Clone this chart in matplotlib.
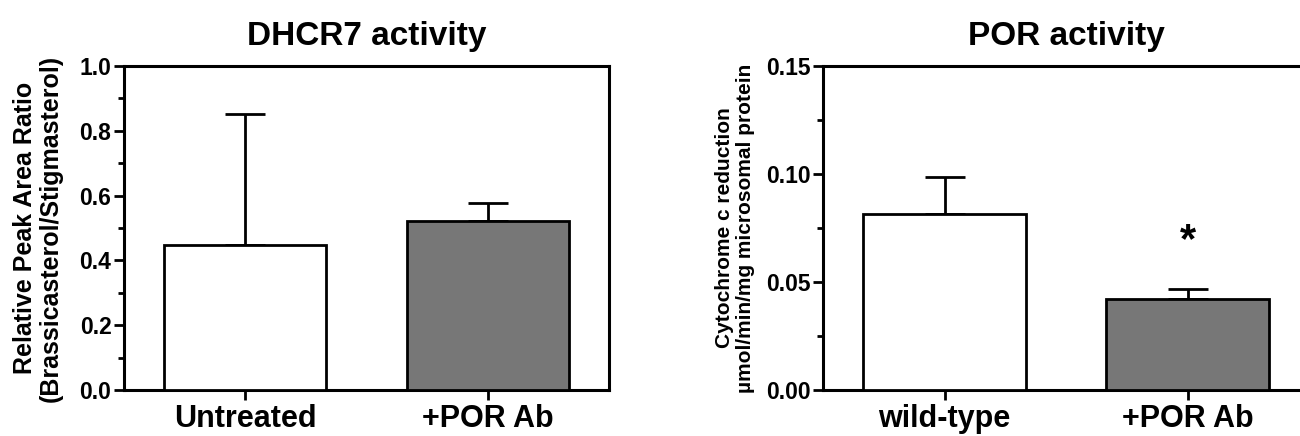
import matplotlib
matplotlib.use("Agg")
import matplotlib.pyplot as plt
from matplotlib.ticker import MultipleLocator, FormatStrFormatter

plt.rcParams['font.family'] = ['Liberation Sans', 'DejaVu Sans']

# ---- data ----
dhcr7_groups = ["Untreated", "+POR Ab"]
dhcr7_means = [0.447, 0.522]
dhcr7_err = [0.405, 0.055]

por_groups = ["wild-type", "+POR Ab"]
por_means = [0.0815, 0.0423]
por_err = [0.0172, 0.0046]
por_star_y = 0.069

bar_colors = ["white", "#777777"]

fig = plt.figure(figsize=(13.0, 4.36), dpi=100)
W, H = 1300.0, 436.0

def make_axes(x0, x1, y0, y1):
    return fig.add_axes([x0 / W, 1 - y1 / H, (x1 - x0) / W, (y1 - y0) / H])

ax1 = make_axes(124, 609, 66, 390)
ax2 = make_axes(823, 1309, 66, 390)

def style(ax, groups, means, errs, ylim, major, minor, fmt, title, ylabel, ylab_size, ylab_pad):
    x = list(range(len(groups)))
    ax.bar(x, means, width=0.67, color=bar_colors, edgecolor="black", linewidth=2.0, zorder=3)
    ax.errorbar(x, means, yerr=[[0] * len(errs), errs], fmt="none", ecolor="black",
                elinewidth=2.0, capsize=14.5, capthick=2.0, zorder=2)
    ax.set_xlim(-0.5, 1.5)
    ax.set_ylim(*ylim)
    ax.set_xticks(x)
    ax.set_xticklabels(groups, fontsize=22, fontweight="bold")
    ax.yaxis.set_major_locator(MultipleLocator(major))
    ax.yaxis.set_minor_locator(MultipleLocator(minor))
    ax.yaxis.set_major_formatter(FormatStrFormatter(fmt))
    for lbl in ax.get_yticklabels():
        lbl.set_fontweight("bold")
    ax.tick_params(axis="y", which="major", labelsize=16.5, length=7, width=2.0, pad=2, direction="out")
    ax.tick_params(axis="y", which="minor", length=4, width=2.0, direction="out")
    ax.tick_params(axis="x", which="major", length=7, width=2.0, pad=3, direction="out")
    ax.tick_params(axis="x", which="minor", bottom=False)
    for s in ax.spines.values():
        s.set_linewidth(2.2)
    ax.set_title(title, fontsize=24, fontweight="bold", pad=15)
    ax.set_ylabel(ylabel, fontsize=ylab_size, fontweight="bold", labelpad=ylab_pad, linespacing=1.1)

style(ax1, dhcr7_groups, dhcr7_means, dhcr7_err, (0, 1.0), 0.2, 0.1, "%.1f",
      "DHCR7 activity", "Relative Peak Area Ratio\n(Brassicasterol/Stigmasterol)", 18, 12)
style(ax2, por_groups, por_means, por_err, (0, 0.15), 0.05, 0.025, "%.2f",
      "POR activity", "Cytochrome c reduction\n\u00b5mol/min/mg microsomal protein", 15, 8)

ax2.text(1, por_star_y, "*", ha="center", va="center", fontsize=30, fontweight="bold")

fig.savefig("out.png", dpi=100)
